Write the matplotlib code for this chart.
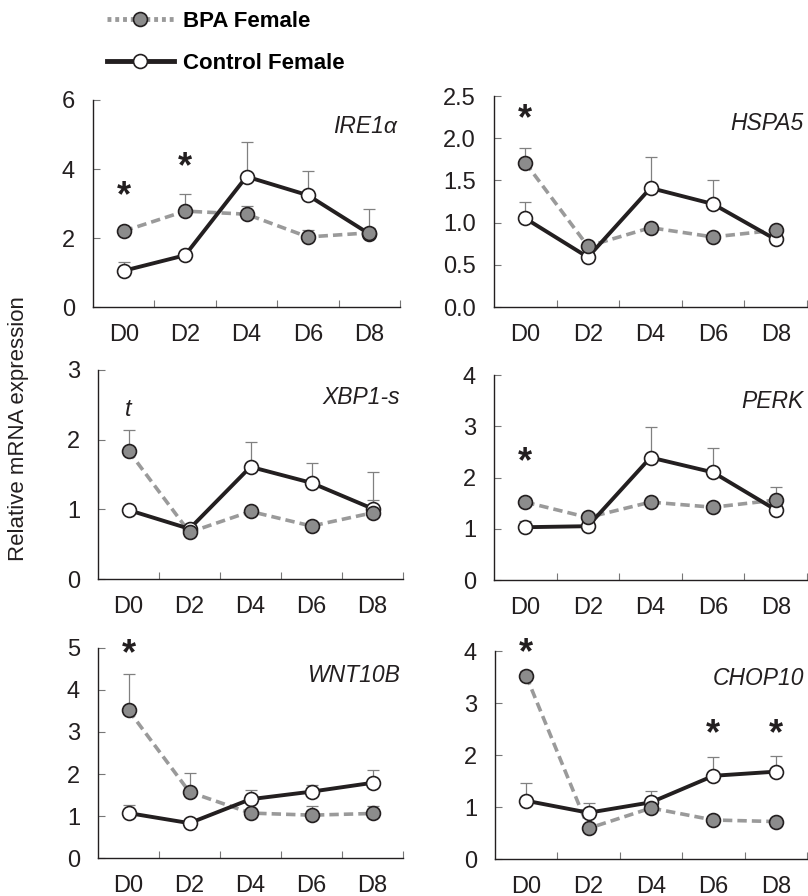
import numpy as np
import matplotlib.pyplot as plt
from matplotlib.lines import Line2D

plt.rcParams['font.family'] = ['Liberation Sans', 'DejaVu Sans']

days = ['D0', 'D2', 'D4', 'D6', 'D8']

genes = ['IRE1α', 'HSPA5', 'XBP1-s', 'PERK', 'WNT10B', 'CHOP10']

# means (relative mRNA expression)
bpa_ire1 = [2.20, 2.78, 2.69, 2.03, 2.15]
ctrl_ire1 = [1.05, 1.50, 3.78, 3.24, 2.12]
bpa_hspa5 = [1.71, 0.72, 0.94, 0.83, 0.91]
ctrl_hspa5 = [1.05, 0.59, 1.41, 1.22, 0.80]
bpa_xbp1 = [1.84, 0.67, 0.97, 0.76, 0.95]
ctrl_xbp1 = [0.99, 0.72, 1.61, 1.38, 1.01]
bpa_perk = [1.52, 1.22, 1.52, 1.42, 1.56]
ctrl_perk = [1.03, 1.05, 2.39, 2.10, 1.37]
bpa_wnt = [3.52, 1.57, 1.07, 1.02, 1.06]
ctrl_wnt = [1.07, 0.83, 1.40, 1.58, 1.79]
bpa_chop = [3.52, 0.59, 0.98, 0.75, 0.72]
ctrl_chop = [1.12, 0.89, 1.09, 1.60, 1.68]

# upper error bars (SEM)
bpa_ire1_err = [0.10, 0.50, 0.23, 0.20, 0.15]
ctrl_ire1_err = [0.24, 0.10, 0.99, 0.70, 0.71]
bpa_hspa5_err = [0.17, 0.03, 0.03, 0.03, 0.03]
ctrl_hspa5_err = [0.19, 0.05, 0.37, 0.28, 0.05]
bpa_xbp1_err = [0.30, 0.03, 0.05, 0.05, 0.19]
ctrl_xbp1_err = [0.05, 0.05, 0.36, 0.28, 0.53]
bpa_perk_err = [0.08, 0.05, 0.05, 0.05, 0.25]
ctrl_perk_err = [0.12, 0.05, 0.60, 0.47, 0.10]
bpa_wnt_err = [0.85, 0.45, 0.10, 0.21, 0.19]
ctrl_wnt_err = [0.20, 0.10, 0.21, 0.17, 0.31]
bpa_chop_err = [0.10, 0.05, 0.05, 0.05, 0.05]
ctrl_chop_err = [0.35, 0.18, 0.21, 0.37, 0.31]

# significance marks: (day index, y, symbol)
marks_ire1 = [(0, 3.2, '*'), (1, 4.05, '*')]
marks_hspa5 = [(0, 2.22, '*')]
marks_xbp1 = [(0, 2.43, 't')]
marks_perk = [(0, 2.28, '*')]
marks_wnt = [(0, 4.84, '*')]
marks_chop = [(0, 3.95, '*'), (3, 2.40, '*'), (4, 2.40, '*')]

yticks_ire1 = [0, 2, 4, 6]
yticks_hspa5 = [0.0, 0.5, 1.0, 1.5, 2.0, 2.5]
yticks_xbp1 = [0, 1, 2, 3]
yticks_perk = [0, 1, 2, 3, 4]
yticks_wnt = [0, 1, 2, 3, 4, 5]
yticks_chop = [0, 1, 2, 3, 4]

panels = [
    (genes[0], bpa_ire1, bpa_ire1_err, ctrl_ire1, ctrl_ire1_err, marks_ire1, yticks_ire1, '%d', (93, 400, 100, 307)),
    (genes[1], bpa_hspa5, bpa_hspa5_err, ctrl_hspa5, ctrl_hspa5_err, marks_hspa5, yticks_hspa5, '%.1f', (494, 807, 96, 307)),
    (genes[2], bpa_xbp1, bpa_xbp1_err, ctrl_xbp1, ctrl_xbp1_err, marks_xbp1, yticks_xbp1, '%d', (98, 403, 370, 579)),
    (genes[3], bpa_perk, bpa_perk_err, ctrl_perk, ctrl_perk_err, marks_perk, yticks_perk, '%d', (494, 807, 375, 580)),
    (genes[4], bpa_wnt, bpa_wnt_err, ctrl_wnt, ctrl_wnt_err, marks_wnt, yticks_wnt, '%d', (98, 403, 648, 858)),
    (genes[5], bpa_chop, bpa_chop_err, ctrl_chop, ctrl_chop_err, marks_chop, yticks_chop, '%d', (495, 807, 651, 859)),
]

W, H = 808, 896
fig = plt.figure(figsize=(W / 100, H / 100), dpi=100)

BPA_LINE = '#9a9a9a'
BPA_FILL = '#8c8c8c'
CTRL = '#231f20'
ERR = '#808080'

x = np.arange(len(days)) + 0.5

for gene, bpa, bpa_err, ctrl, ctrl_err, marks, yt, fmt, (l, r, t, b) in panels:
    ax = fig.add_axes([l / W, 1 - b / H, (r - l) / W, (b - t) / H])

    ax.errorbar(x, ctrl, yerr=[np.zeros(5), ctrl_err], fmt='none', ecolor=ERR,
                elinewidth=0.9, capsize=4, capthick=0.9, zorder=1)
    ax.errorbar(x, bpa, yerr=[np.zeros(5), bpa_err], fmt='none', ecolor=ERR,
                elinewidth=0.9, capsize=4, capthick=0.9, zorder=1)

    ax.plot(x, bpa, color=BPA_LINE, lw=2.6, dashes=(2.6, 1.4), zorder=2)
    ax.plot(x, ctrl, color=CTRL, lw=2.8, zorder=3)
    ax.plot(x, ctrl, 'o', ms=10, mfc='white', mec=CTRL, mew=1.2, zorder=4)
    ax.plot(x, bpa, 'o', ms=10, mfc=BPA_FILL, mec=CTRL, mew=1.2, zorder=5)

    for i, yv, s in marks:
        if s == '*':
            ax.text(x[i], yv, s, ha='center', va='center', fontsize=26,
                    fontweight='bold', color=CTRL)
        else:
            ax.text(x[i], yv, s, ha='center', va='center', fontsize=17,
                    fontstyle='italic', color=CTRL)

    ax.text(0.99, 0.87, gene, transform=ax.transAxes, ha='right', va='center',
            fontsize=16.5, fontstyle='italic', color=CTRL)

    ax.set_xlim(0, 5)
    ax.set_ylim(yt[0], yt[-1])
    ax.set_xticks([1, 2, 3, 4, 5])
    ax.set_xticklabels([])
    ax.set_xticks(x, minor=True)
    ax.set_xticklabels(days, minor=True)
    ax.tick_params(axis='x', which='major', direction='in', length=5, width=0.8, color='#777777')
    ax.tick_params(axis='x', which='minor', length=0, pad=12, labelsize=17, labelcolor=CTRL)
    ax.set_yticks(yt)
    ax.set_yticklabels([fmt % v for v in yt])
    ax.tick_params(axis='y', direction='in', length=5, width=0.8, color='#777777',
                   pad=13, labelsize=17, labelcolor=CTRL)

    for s in ['top', 'right']:
        ax.spines[s].set_visible(False)
    for s in ['left', 'bottom']:
        ax.spines[s].set_linewidth(1.0)
        ax.spines[s].set_color(CTRL)

fig.text(19 / W, 1 - 429 / H, 'Relative mRNA expression', rotation=90,
         ha='center', va='center', fontsize=16, color=CTRL)

handles = [
    Line2D([], [], color=BPA_LINE, lw=3.5, ls=(0, (0.8, 0.8)), marker='o', ms=10,
           mfc=BPA_FILL, mec=CTRL, mew=1.2),
    Line2D([], [], color=CTRL, lw=3.5, marker='o', ms=10, mfc='white', mec=CTRL, mew=1.2),
]
fig.legend(handles, ['BPA Female', 'Control Female'], loc='upper left',
           bbox_to_anchor=(107 / W, 1 - 11 / H), frameon=False, borderpad=0,
           borderaxespad=0, handlelength=3.0, handletextpad=0.4, labelspacing=0.95,
           prop={'weight': 'bold', 'size': 16})

plt.savefig('out.png', dpi=100)
